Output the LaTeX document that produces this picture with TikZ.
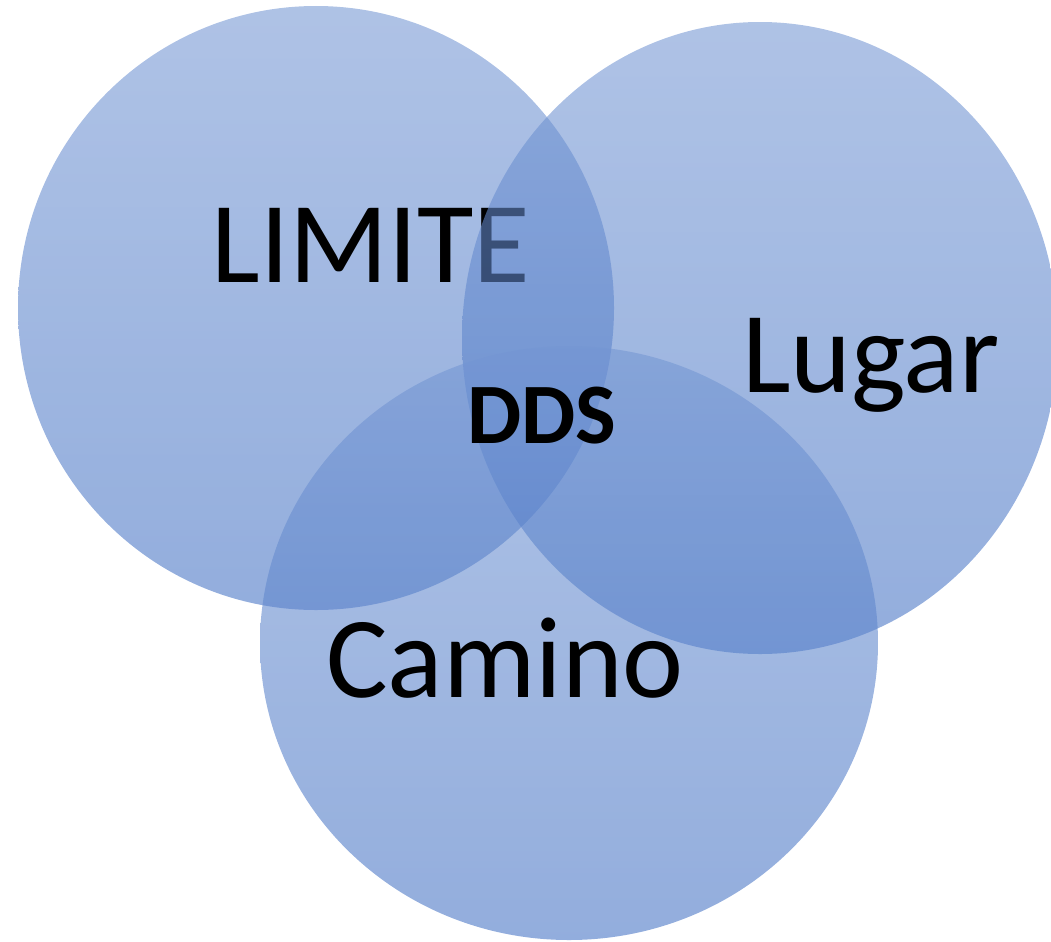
\documentclass[tikz,border=0pt]{standalone}
\usepackage{fontspec}
\setmainfont{Carlito}
\definecolor{vennblue}{HTML}{4472C4}
\begin{document}
\begin{tikzpicture}[
    venn/.style={top color=vennblue!74!white, bottom color=vennblue, fill opacity=0.58},
    bigtext/.style={font=\fontsize{32.9}{33}\selectfont, inner sep=0pt, anchor=base}]
  \useasboundingbox (0,0) rectangle (10.51,-9.41);
  % Each circle, then its own label (the next circle lies over it)
  \foreach \i/\cx/\cy/\rx/\ry/\lx/\ly/\lab in {
      1/3.16/-3.08/2.98/3.02/3.71/-2.82/LIMITE,
      2/7.60/-3.38/2.98/3.16/8.71/-3.92/Lugar,
      3/5.69/-6.43/3.09/2.97/5.05/-6.97/Camino} {
    \shade [venn] (\cx,\cy) ellipse [x radius=\rx, y radius=\ry];
    \node (lab\i) [bigtext] at (\lx,\ly) {\lab};
  }
  % Label of the common area
  \node (dds) [bigtext, font=\fontsize{24.5}{25}\selectfont\bfseries] at (5.42,-4.43) {DDS};
\end{tikzpicture}
\end{document}
